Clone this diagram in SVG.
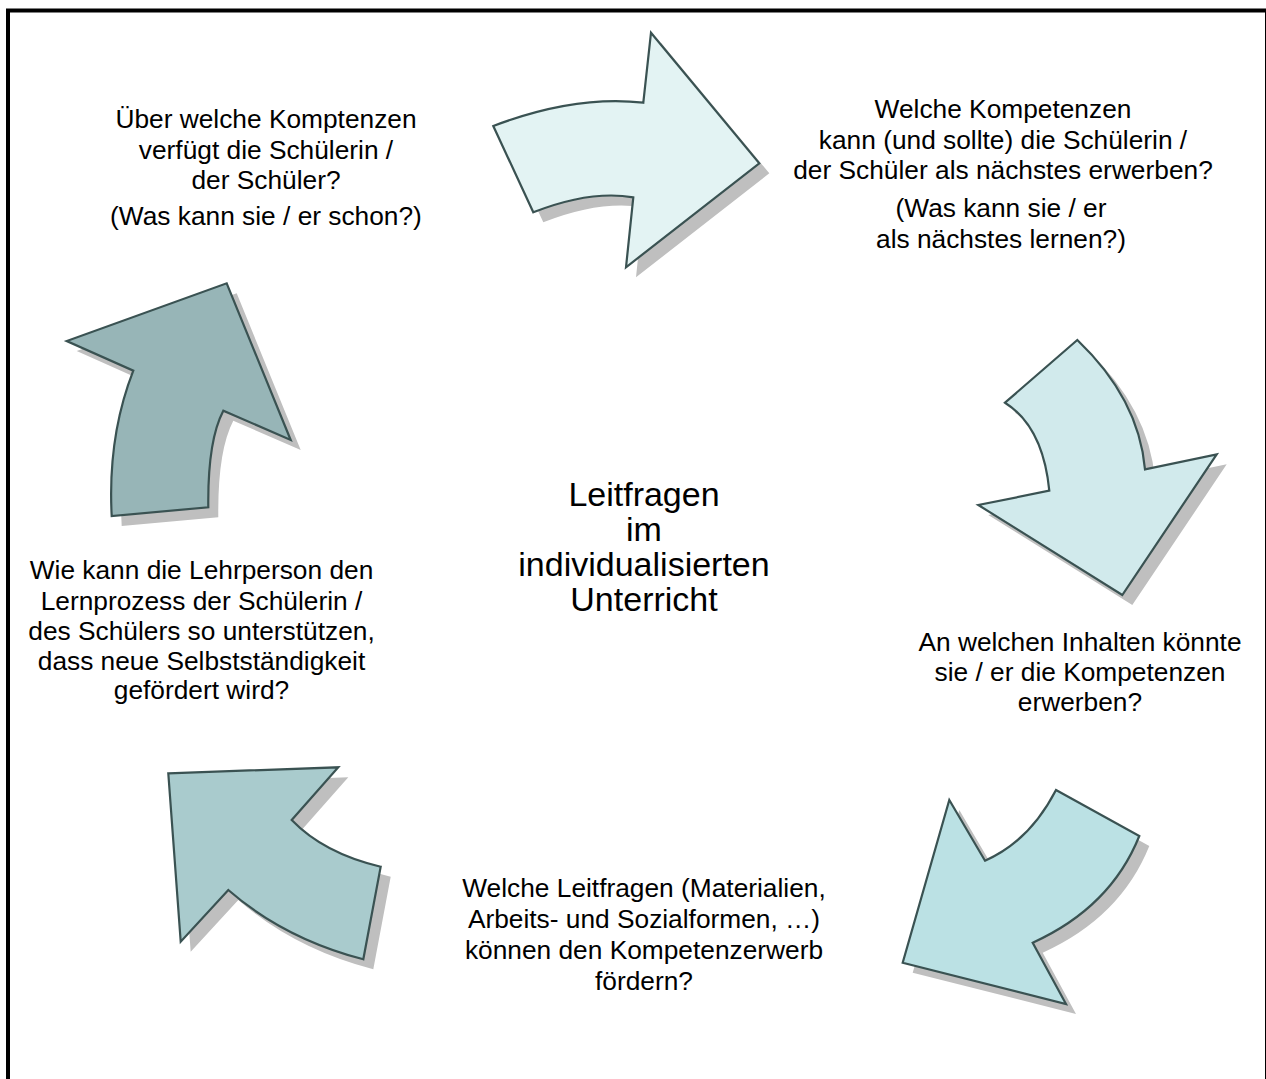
<svg xmlns="http://www.w3.org/2000/svg" width="1266" height="1079" viewBox="0 0 1266 1079">
<style>
.t{font-family:"Liberation Sans",Arial,sans-serif;font-size:26.3px;fill:#000;text-anchor:middle}
.c{font-size:34px}
.arr{stroke:#3a5252;stroke-width:2.2;stroke-linejoin:miter}
.sh{fill:#bfbfbf;stroke:none}
</style>
<rect x="0" y="0" width="1266" height="1079" fill="#fff"/>
<rect x="8" y="10.5" width="1259" height="1080" fill="none" stroke="#000" stroke-width="4"/>
<g id="connectors">
  <g id="arrow1">
    <path class="sh" transform="translate(10,10)" d="M493.3,126 Q575,95 643.3,102.7 L651,32.7 L759.3,163.3 L626,267.3 L633.3,197.3 Q590,190 533.3,212.3 Z"/>
    <path class="arr" fill="#e3f3f3" d="M493.3,126 Q575,95 643.3,102.7 L651,32.7 L759.3,163.3 L626,267.3 L633.3,197.3 Q590,190 533.3,212.3 Z"/>
  </g>
  <g id="arrow2">
    <path class="sh" transform="translate(10,10)" d="M1077.3,340 L1005,402.7 Q1043,426.7 1049.3,490.7 L978.3,505 L1122.3,595 L1216.7,454.3 L1145,469.3 Q1138.8,398.7 1077.3,340 Z"/>
    <path class="arr" fill="#d1eaec" d="M1077.3,340 L1005,402.7 Q1043,426.7 1049.3,490.7 L978.3,505 L1122.3,595 L1216.7,454.3 L1145,469.3 Q1138.8,398.7 1077.3,340 Z"/>
  </g>
  <g id="arrow3">
    <path class="sh" transform="translate(10,10)" d="M1056,790 L1139.3,836 Q1110.7,907.3 1032.7,942.7 L1066,1004 L902.7,962.7 L949.3,800 L985,860.7 Q1029.5,841.3 1056,790 Z"/>
    <path class="arr" fill="#bbe1e4" d="M1056,790 L1139.3,836 Q1110.7,907.3 1032.7,942.7 L1066,1004 L902.7,962.7 L949.3,800 L985,860.7 Q1029.5,841.3 1056,790 Z"/>
  </g>
  <g id="arrow4">
    <path class="sh" transform="translate(10,10)" d="M168.3,773.3 L338.3,767.3 L291.7,820 Q323.8,853.3 380.7,866.7 L363.3,959.3 Q284.2,938.7 228.3,890 L180.7,941.7 Z"/>
    <path class="arr" fill="#a9cbcd" d="M168.3,773.3 L338.3,767.3 L291.7,820 Q323.8,853.3 380.7,866.7 L363.3,959.3 Q284.2,938.7 228.3,890 L180.7,941.7 Z"/>
  </g>
  <g id="arrow5">
    <path class="sh" transform="translate(10,10)" d="M226.7,283.3 L290.7,440 L223.3,410.7 Q207.5,441 208.3,507.3 L111.7,516 Q107.5,436.7 133.3,370.7 L66.7,341 Z"/>
    <path class="arr" fill="#97b5b7" d="M226.7,283.3 L290.7,440 L223.3,410.7 Q207.5,441 208.3,507.3 L111.7,516 Q107.5,436.7 133.3,370.7 L66.7,341 Z"/>
  </g>
</g>
<g id="node-current">
  <text class="t" x="266" y="128">Über welche Komptenzen</text>
  <text class="t" x="266" y="158.5">verfügt die Schülerin /</text>
  <text class="t" x="266" y="189">der Schüler?</text>
  <text class="t" x="266" y="225">(Was kann sie / er schon?)</text>
</g>
<g id="node-next">
  <text class="t" x="1003" y="118">Welche Kompetenzen</text>
  <text class="t" x="1003" y="148.5">kann (und sollte) die Schülerin /</text>
  <text class="t" x="1003" y="179">der Schüler als nächstes erwerben?</text>
  <text class="t" x="1001" y="216.5">(Was kann sie / er</text>
  <text class="t" x="1001" y="248">als nächstes lernen?)</text>
</g>
<g id="node-content">
  <text class="t" x="1080" y="651">An welchen Inhalten könnte</text>
  <text class="t" x="1080" y="681">sie / er die Kompetenzen</text>
  <text class="t" x="1080" y="711">erwerben?</text>
</g>
<g id="node-methods">
  <text class="t" x="644" y="897">Welche Leitfragen (Materialien,</text>
  <text class="t" x="644" y="928">Arbeits- und Sozialformen, …)</text>
  <text class="t" x="644" y="959">können den Kompetenzerwerb</text>
  <text class="t" x="644" y="990">fördern?</text>
</g>
<g id="node-support">
  <text class="t" x="201.5" y="579">Wie kann die Lehrperson den</text>
  <text class="t" x="201.5" y="609.5">Lernprozess der Schülerin /</text>
  <text class="t" x="201.5" y="640">des Schülers so unterstützen,</text>
  <text class="t" x="201.5" y="670">dass neue Selbstständigkeit</text>
  <text class="t" x="201.5" y="699">gefördert wird?</text>
</g>
<g id="node-center">
  <text class="t c" x="644" y="506">Leitfragen</text>
  <text class="t c" x="644" y="541">im</text>
  <text class="t c" x="644" y="576">individualisierten</text>
  <text class="t c" x="644" y="611">Unterricht</text>
</g>
</svg>
